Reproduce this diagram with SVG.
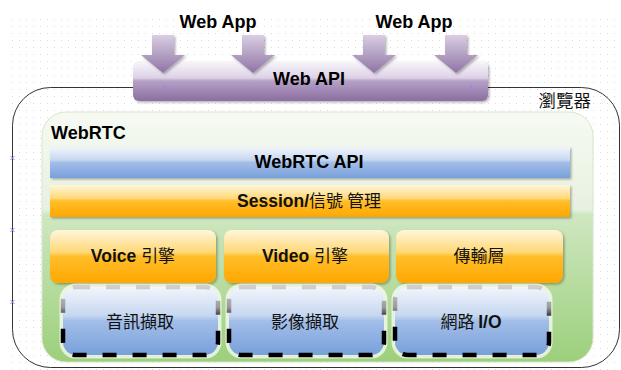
<svg xmlns="http://www.w3.org/2000/svg" width="621" height="370" viewBox="0 0 621 370">
  <defs>
    <pattern id="grid" patternUnits="userSpaceOnUse" x="12" y="19" width="7" height="7">
      <rect x="0" y="0" width="1" height="1" fill="#dcdcdc"/>
    </pattern>
    <linearGradient id="gPurple" x1="0" y1="0" x2="0" y2="1">
      <stop offset="0" stop-color="#f8f6fa"/>
      <stop offset="0.42" stop-color="#ddd2e6"/>
      <stop offset="0.5" stop-color="#b5a0c6"/>
      <stop offset="1" stop-color="#8b6fa0"/>
    </linearGradient>
    <linearGradient id="gArrow" x1="0" y1="0" x2="0" y2="1">
      <stop offset="0" stop-color="#d9cee3"/>
      <stop offset="1" stop-color="#8f74a4"/>
    </linearGradient>
    <linearGradient id="gGreen" x1="0" y1="0" x2="0" y2="1">
      <stop offset="0" stop-color="#f6faf3"/>
      <stop offset="0.39" stop-color="#e7f1e0"/>
      <stop offset="0.41" stop-color="#cfe7c1"/>
      <stop offset="1" stop-color="#9ccf7b"/>
    </linearGradient>
    <linearGradient id="gBlue" x1="0" y1="0" x2="0" y2="1">
      <stop offset="0" stop-color="#f2f6fc"/>
      <stop offset="0.42" stop-color="#c6d7f0"/>
      <stop offset="0.5" stop-color="#a2bee8"/>
      <stop offset="1" stop-color="#78a0db"/>
    </linearGradient>
    <linearGradient id="gOrange" x1="0" y1="0" x2="0" y2="1">
      <stop offset="0" stop-color="#fff6dc"/>
      <stop offset="0.42" stop-color="#ffd877"/>
      <stop offset="0.5" stop-color="#ffbe2a"/>
      <stop offset="1" stop-color="#ffa700"/>
    </linearGradient>
    <linearGradient id="gDash" x1="0" y1="0" x2="0" y2="1">
      <stop offset="0" stop-color="#cfcfcf"/>
      <stop offset="0.3" stop-color="#9a9a9a"/>
      <stop offset="0.5" stop-color="#000"/>
      <stop offset="1" stop-color="#000"/>
    </linearGradient>
    <filter id="shadow" x="-5%" y="-20%" width="110%" height="150%">
      <feDropShadow dx="1.5" dy="1.5" stdDeviation="1" flood-color="#000" flood-opacity="0.3"/>
    </filter>
    <g id="handle">
      <path d="M-2,-2 L2,2 M-2,2 L2,-2" stroke="#8a8cf0" stroke-width="1"/>
    </g>
  </defs>
  <style>
    .en { font-family: "Liberation Sans", Arial, sans-serif; font-weight: bold; font-size: 18px; fill: #000; }
    .cjk { font-family: "Noto Sans CJK TC", "Liberation Sans", sans-serif; font-weight: normal; }
    .lbl { font-family: "Liberation Sans", "Noto Sans CJK TC", sans-serif; font-size: 17px; fill: #111; text-anchor: middle; }
    .b { font-weight: bold; font-size: 17.5px; }
    .dash { fill: url(#gBlue); stroke: url(#gDash); stroke-width: 4.5; stroke-dasharray: 14 16; }
    .halo { fill: none; stroke: #ffffff; stroke-opacity: 0.7; stroke-width: 7; }
    .dot { fill: #8a8cf0; }
  </style>

  <!-- canvas grid -->
  <rect x="10" y="17" width="611" height="353" fill="url(#grid)"/>

  <!-- browser frame -->
  <g id="browser">
    <rect x="12.5" y="87.5" width="607" height="280" rx="38" ry="38" fill="none" stroke="#333" stroke-width="1"/>
    <text x="591" y="107" class="cjk" font-size="17.5" text-anchor="end" fill="#111">瀏覽器</text>
    <use href="#handle" x="12.5" y="158"/>
    <use href="#handle" x="12.5" y="230"/>
    <use href="#handle" x="12.5" y="302"/>
  </g>

  <!-- Web API bar -->
  <g id="web-api">
    <rect x="133" y="61" width="355" height="40" rx="6" ry="6" fill="url(#gPurple)" filter="url(#shadow)"/>
    <circle class="dot" cx="165" cy="87" r="1.3"/>
    <circle class="dot" cx="317" cy="87" r="1.3"/>
    <circle class="dot" cx="471" cy="87" r="1.3"/>
  </g>

  <!-- Web App labels -->
  <g id="web-app-1">
    <text x="218" y="28" class="en" text-anchor="middle">Web App</text>
  </g>
  <g id="web-app-2">
    <text x="414" y="28" class="en" text-anchor="middle">Web App</text>
  </g>

  <!-- arrows from the web apps into the Web API -->
  <g id="connectors" fill="url(#gArrow)" filter="url(#shadow)">
    <path d="M152,35 H174 V55 H185 L163,73 L141,55 H152 Z"/>
    <path d="M242,35 H264 V55 H275 L253,73 L231,55 H242 Z"/>
    <path d="M363,35 H385 V55 H396 L374,73 L352,55 H363 Z"/>
    <path d="M445,35 H467 V55 H478 L456,73 L434,55 H445 Z"/>
  </g>
  <text x="309" y="85" class="en" text-anchor="middle">Web API</text>

  <!-- WebRTC container -->
  <g id="webrtc">
    <rect x="42" y="112" width="551" height="250" rx="24" ry="24" fill="url(#gGreen)" stroke="#d6e6cc" stroke-width="1"/>
    <text x="51" y="139" class="en">WebRTC</text>
  </g>

  <g id="webrtc-api">
    <rect x="50" y="147" width="520" height="31" fill="url(#gBlue)" filter="url(#shadow)"/>
    <text x="309" y="168" class="en" text-anchor="middle">WebRTC API</text>
  </g>

  <g id="session">
    <rect x="50" y="185" width="520" height="32" fill="url(#gOrange)" filter="url(#shadow)"/>
    <text x="309" y="207" class="lbl"><tspan class="b">Session/</tspan><tspan class="cjk">信號 管理</tspan></text>
  </g>

  <g id="voice-engine">
    <rect x="50" y="230" width="166" height="53" rx="8" ry="8" fill="url(#gOrange)" filter="url(#shadow)"/>
    <text x="133" y="262" class="lbl"><tspan class="b">Voice </tspan><tspan class="cjk">引擎</tspan></text>
  </g>

  <g id="video-engine">
    <rect x="224" y="230" width="165" height="53" rx="8" ry="8" fill="url(#gOrange)" filter="url(#shadow)"/>
    <text x="305" y="262" class="lbl"><tspan class="b">Video </tspan><tspan class="cjk">引擎</tspan></text>
  </g>

  <g id="transport">
    <rect x="396" y="230" width="167" height="53" rx="8" ry="8" fill="url(#gOrange)" filter="url(#shadow)"/>
    <text x="479" y="262" class="lbl cjk">傳輸層</text>
  </g>

  <g id="audio-capture">
    <rect class="halo" x="63" y="287" width="155" height="68" rx="13" ry="13"/>
    <rect class="dash" x="63" y="287" width="155" height="68" rx="13" ry="13"/>
    <text x="140" y="328" class="lbl cjk">音訊擷取</text>
  </g>

  <g id="video-capture">
    <rect class="halo" x="229" y="287" width="155" height="68" rx="13" ry="13"/>
    <rect class="dash" x="229" y="287" width="155" height="68" rx="13" ry="13"/>
    <text x="305" y="328" class="lbl cjk">影像擷取</text>
  </g>

  <g id="network-io">
    <rect class="halo" x="395" y="287" width="154" height="68" rx="13" ry="13"/>
    <rect class="dash" x="395" y="287" width="154" height="68" rx="13" ry="13"/>
    <text x="471" y="328" class="lbl"><tspan class="cjk">網路 </tspan><tspan class="b">I/O</tspan></text>
  </g>
</svg>
